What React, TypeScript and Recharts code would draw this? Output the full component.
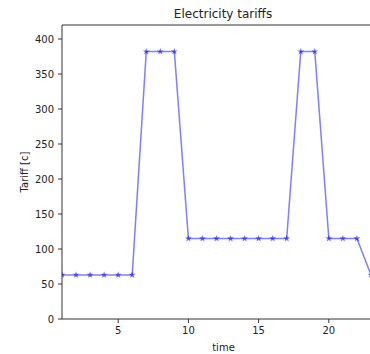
import React from "react";
import { LineChart, Line, XAxis, YAxis, ReferenceLine } from "recharts";

const hours = [1, 2, 3, 4, 5, 6, 7, 8, 9, 10, 11, 12, 13, 14, 15, 16, 17, 18, 19, 20, 21, 22, 23, 24];
const tariffs = [63, 63, 63, 63, 63, 63, 382, 382, 382, 115, 115, 115, 115, 115, 115, 115, 115, 382, 382, 115, 115, 115, 63, 63];
const xTicks = [5, 10, 15, 20];
const yTicks = [0, 50, 100, 150, 200, 250, 300, 350, 400];
const yMax = 420;

const data = hours.map((t, i) => ({ time: t, tariff: tariffs[i] }));

const FONT = "'DejaVu Sans', sans-serif";
const INK = "#222";

function Star({ cx, cy }: any) {
  if (cx == null || cy == null) return null;
  const pts: string[] = [];
  for (let k = 0; k < 10; k++) {
    const r = k % 2 === 0 ? 3.6 : 1.5;
    const a = -Math.PI / 2 + (k * Math.PI) / 5;
    pts.push(`${cx + r * Math.cos(a)},${cy + r * Math.sin(a)}`);
  }
  return <polygon points={pts.join(" ")} fill="#0000ff" fillOpacity={0.55} stroke="none" />;
}

function YLabel({ viewBox }: any) {
  const y = viewBox.y + viewBox.height / 2;
  return (
    <text x={24} y={y} transform={`rotate(-90 24 ${y})`} textAnchor="middle" dominantBaseline="central"
      fontSize={10} fontFamily={FONT} fill={INK}>
      Tariff [c]
    </text>
  );
}

function XLabel({ viewBox }: any) {
  return (
    <text x={viewBox.x + viewBox.width / 2} y={351} textAnchor="middle" fontSize={10} fontFamily={FONT} fill={INK}>
      time
    </text>
  );
}

export default function App() {
  return (
    <div style={{ position: "absolute", left: 0, top: 0, width: 370, height: 354, overflow: "hidden", background: "#fff" }}>
      <div style={{ position: "absolute", left: 0, top: 8, width: 446, textAlign: "center", fontFamily: FONT, fontSize: 12, lineHeight: "12px", color: INK }}>
        Electricity tariffs
      </div>
      <LineChart width={390} height={354} data={data} margin={{ top: 25, right: 5, left: 0, bottom: 0 }}>
        <XAxis
          dataKey="time"
          type="number"
          domain={[1, 24]}
          ticks={xTicks}
          allowDataOverflow
          tickSize={4}
          tickMargin={4}
          height={35}
          stroke="#333"
          tick={{ fontSize: 10, fontFamily: FONT, fill: INK }}
          label={<XLabel />}
        />
        <YAxis
          type="number"
          domain={[0, yMax]}
          ticks={yTicks}
          allowDataOverflow
          tickSize={4}
          tickMargin={4}
          width={62}
          stroke="#333"
          tick={{ fontSize: 10, fontFamily: FONT, fill: INK }}
          label={<YLabel />}
        />
        <ReferenceLine y={yMax} stroke="#333" strokeWidth={1} />
        <Line
          dataKey="tariff"
          stroke="#0000ff"
          strokeOpacity={0.5}
          strokeWidth={1.5}
          dot={<Star />}
          activeDot={false}
          isAnimationActive={false}
        />
      </LineChart>
    </div>
  );
}
